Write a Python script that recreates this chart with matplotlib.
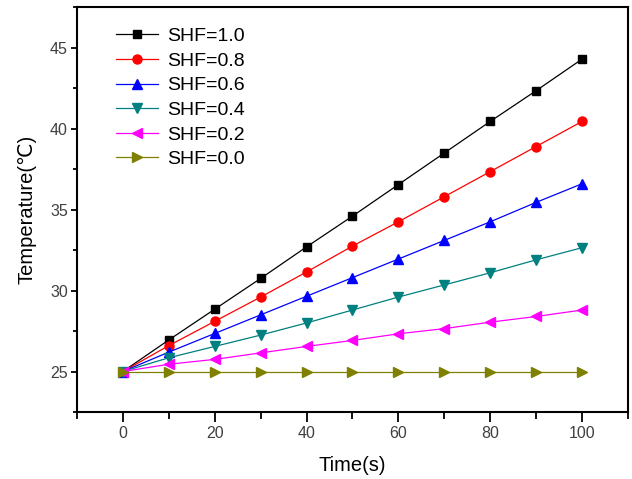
import numpy as np
import matplotlib
matplotlib.use("Agg")
import matplotlib.pyplot as plt
from matplotlib.ticker import MultipleLocator

plt.rcParams['font.family'] = ['Liberation Sans', 'DejaVu Sans']

time = [0, 10, 20, 30, 40, 50, 60, 70, 80, 90, 100]
shf_10 = [25, 26.95, 28.85, 30.75, 32.7, 34.6, 36.55, 38.5, 40.45, 42.35, 44.3]
shf_08 = [25, 26.6, 28.1, 29.6, 31.15, 32.75, 34.25, 35.8, 37.35, 38.9, 40.45]
shf_06 = [25, 26.2, 27.35, 28.5, 29.65, 30.8, 31.95, 33.1, 34.25, 35.45, 36.6]
shf_04 = [25, 25.85, 26.55, 27.25, 28.0, 28.8, 29.6, 30.35, 31.1, 31.9, 32.65]
shf_02 = [25, 25.45, 25.75, 26.15, 26.55, 26.92, 27.33, 27.65, 28.05, 28.4, 28.8]
shf_00 = [25, 25, 25, 25, 25, 25, 25, 25, 25, 25, 25]

series = [
    (shf_10, "SHF=1.0", "black", "s", 6),
    (shf_08, "SHF=0.8", "red", "o", 6.5),
    (shf_06, "SHF=0.6", "blue", "^", 7),
    (shf_04, "SHF=0.4", "#008080", "v", 7),
    (shf_02, "SHF=0.2", "magenta", "<", 7),
    (shf_00, "SHF=0.0", "#808000", ">", 7),
]

fig = plt.figure(figsize=(6.32, 4.79), dpi=100)
ax = fig.add_axes([0.1218, 0.1399, 0.8719, 0.8449])

for vals, lab, col, mk, ms in series:
    ax.plot(time, vals, color=col, marker=mk, markersize=ms, linewidth=0.9, label=lab)

ax.set_xlim(-10, 110)
ax.set_ylim(22.5, 47.5)
ax.xaxis.set_major_locator(MultipleLocator(20))
ax.xaxis.set_minor_locator(MultipleLocator(10))
ax.yaxis.set_major_locator(MultipleLocator(5))
ax.yaxis.set_minor_locator(MultipleLocator(2.5))
ax.tick_params(which='both', direction='out', top=False, right=False,
               labelsize=11.5, labelcolor='#404040', width=1.3)
ax.tick_params(axis='x', which='major', length=7, pad=3)
ax.tick_params(axis='x', which='minor', length=5)
ax.tick_params(axis='y', which='major', length=4.5, pad=2)
ax.tick_params(axis='y', which='minor', length=3)
for s in ax.spines.values():
    s.set_linewidth(1.5)

ax.set_xlabel("Time(s)", fontsize=14.5, labelpad=11)
ax.set_ylabel("Temperature(\u2103)", fontsize=14.5, labelpad=10)

ax.legend(loc='upper left', frameon=False, fontsize=14, handlelength=2.2,
          handletextpad=0.45, labelspacing=0.36, borderaxespad=0, borderpad=0,
          bbox_to_anchor=(0.07, 0.95))

fig.savefig("out.png", dpi=100)
